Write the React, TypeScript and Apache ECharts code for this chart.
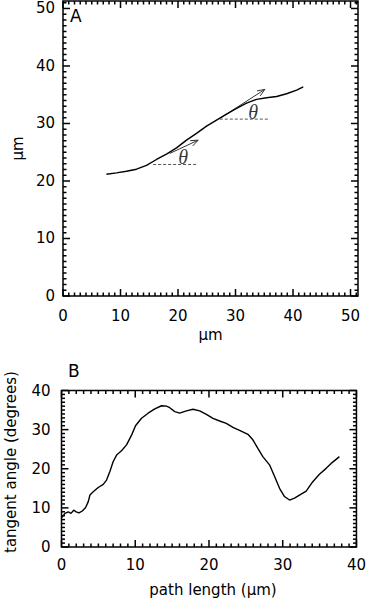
import React, { useEffect, useRef } from "react";
import * as echarts from "echarts";

// Panel A: path of the object (µm)
const pathX = [7.55, 9.29, 11.03, 12.78, 14.52, 16.26, 18.0, 19.74, 21.48, 23.22, 24.96, 26.7, 28.44, 30.18, 31.92, 33.66, 35.4, 37.14, 38.88, 40.63, 41.78];
const pathY = [21.18, 21.41, 21.7, 22.05, 22.7, 23.74, 24.67, 25.76, 27.1, 28.27, 29.54, 30.58, 31.63, 32.62, 33.54, 34.19, 34.47, 34.7, 35.17, 35.8, 36.38];

// tangent arrows [x1, y1, x2, y2]
const tangentArrows = [
  [18.57, 24.79, 23.5, 27.1],
  [27.27, 30.88, 35.1, 35.93],
];
// horizontal reference lines [xStart, xEnd, y]
const refLines = [
  [15.67, 23.5, 22.87],
  [27.27, 35.68, 30.76],
];
// theta label positions
const thetaX = [20.9, 33.07];
const thetaY = [24.09, 32.03];

// Panel B: tangent angle vs path length
const lenX = [0.03, 0.47, 0.92, 1.29, 1.65, 2.0, 2.37, 2.82, 3.27, 3.63, 3.86, 4.3, 4.98, 5.66, 6.11, 6.56, 7.0, 7.47, 8.14, 8.82, 9.5, 10.04, 10.85, 11.75, 12.65, 13.56, 14.23, 14.68, 15.36, 16.03, 16.94, 17.84, 18.74, 19.65, 20.54, 21.45, 22.35, 23.25, 24.15, 25.28, 25.95, 26.63, 27.3, 28.21, 28.9, 29.57, 30.24, 30.92, 31.6, 32.5, 33.18, 34.08, 34.98, 35.89, 36.78, 37.69];
const angleY = [7.5, 8.6, 9.0, 8.6, 9.4, 9.0, 8.7, 9.2, 10.1, 11.6, 13.3, 14.1, 15.2, 16.0, 17.1, 19.3, 21.8, 23.5, 24.6, 26.1, 28.6, 31.0, 32.9, 34.2, 35.3, 36.1, 36.0, 35.6, 34.6, 34.2, 34.8, 35.2, 34.8, 33.9, 32.9, 32.2, 31.6, 30.6, 29.8, 28.8, 27.4, 25.2, 23.1, 21.0, 18.0, 15.0, 12.9, 12.0, 12.5, 13.5, 14.3, 16.7, 18.6, 20.1, 21.7, 23.1];

const tickLabelsA = [0, 10, 20, 30, 40, 50];
const tickLabelsB = [0, 10, 20, 30, 40];
const MAX_A = 51.3;
const MAX_B = 40;
const MAJOR_STEP = 10;
const MINOR_STEP = 1;

const FONT = "DejaVu Sans";

function axis(gridIndex: number, max: number, labels: number[], name: string, nameGap: number, margin: number) {
  return {
    type: "value",
    gridIndex,
    min: 0,
    max,
    interval: MAJOR_STEP,
    splitLine: { show: false },
    axisLine: { show: false, onZero: false },
    axisTick: { show: false },
    axisLabel: {
      margin,
      color: "#000",
      fontFamily: FONT,
      fontSize: 15,
      formatter: (v: number) => (labels.indexOf(v) >= 0 ? String(v) : ""),
    },
    name,
    nameLocation: "middle",
    nameGap,
    nameTextStyle: { color: "#000", fontFamily: FONT, fontSize: 15 },
  };
}

// tick items: [value, dim(0=x,1=y), isMajor]
function tickItems(maxX: number, maxY: number) {
  const items: number[][] = [];
  for (let v = 0; v <= maxX + 1e-9; v += MINOR_STEP) items.push([v, 0, v % MAJOR_STEP === 0 ? 1 : 0]);
  for (let v = 0; v <= maxY + 1e-9; v += MINOR_STEP) items.push([v, 1, v % MAJOR_STEP === 0 ? 1 : 0]);
  return items;
}

// inward ticks on all four sides of the box, placed through the axes' scales
function tickSeries(axisIndex: number, maxX: number, maxY: number) {
  return {
    type: "custom",
    xAxisIndex: axisIndex,
    yAxisIndex: axisIndex,
    silent: true,
    data: tickItems(maxX, maxY),
    renderItem: (params: any, api: any) => {
      const v = api.value(0);
      const dim = api.value(1);
      const len = api.value(2) ? 7 : 3.5;
      const cs = params.coordSys;
      const st = { stroke: "#000", lineWidth: 1.5, fill: null };
      if (dim === 0) {
        const px = api.coord([v, 0])[0];
        const b = cs.y + cs.height;
        return {
          type: "group",
          children: [
            { type: "line", shape: { x1: px, y1: b, x2: px, y2: b - len }, style: st },
            { type: "line", shape: { x1: px, y1: cs.y, x2: px, y2: cs.y + len }, style: st },
          ],
        };
      }
      const py = api.coord([0, v])[1];
      const r = cs.x + cs.width;
      return {
        type: "group",
        children: [
          { type: "line", shape: { x1: cs.x, y1: py, x2: cs.x + len, y2: py }, style: st },
          { type: "line", shape: { x1: r, y1: py, x2: r - len, y2: py }, style: st },
        ],
      };
    },
  };
}

export default function App() {
  const ref = useRef<HTMLDivElement>(null);
  useEffect(() => {
    if (!ref.current) return;
    const chart = echarts.init(ref.current, undefined, { renderer: "svg" });
    const box = { show: true, borderColor: "#000", borderWidth: 1.5, backgroundColor: "transparent" };
    const option: any = {
      animation: false,
      backgroundColor: "#fff",
      grid: [
        { ...box, left: 63, top: 1, width: 295, height: 295 },
        { ...box, left: 61.5, top: 390.5, width: 296, height: 156.5 },
      ],
      xAxis: [axis(0, MAX_A, tickLabelsA, "µm", 31, 12), axis(1, MAX_B, tickLabelsB, "", 34, 10)],
      yAxis: [axis(0, MAX_A, tickLabelsA, "µm", 29, 8), axis(1, MAX_B, tickLabelsB, "", 40, 11)],
      graphic: [
        { type: "text", left: 70, top: 7, style: { text: "A", font: `17px "${FONT}"`, fill: "#000" } },
        { type: "text", left: 68, top: 362, style: { text: "B", font: `17px "${FONT}"`, fill: "#000" } },
        {
          type: "text",
          x: 213,
          y: 590,
          style: { text: "path length (µm)", font: `15px "${FONT}"`, fill: "#000", align: "center", verticalAlign: "middle" },
        },
        {
          type: "text",
          x: 11,
          y: 462,
          rotation: Math.PI / 2,
          style: { text: "tangent angle (degrees)", font: `15px "${FONT}"`, fill: "#000", align: "center", verticalAlign: "middle" },
        },
      ],
      series: [
        tickSeries(0, MAX_A, MAX_A),
        tickSeries(1, MAX_B, MAX_B),
        {
          type: "line",
          xAxisIndex: 0,
          yAxisIndex: 0,
          data: pathX.map((x, i) => [x, pathY[i]]),
          symbol: "none",
          lineStyle: { color: "#000", width: 1.4 },
        },
        ...refLines.map((r) => ({
          type: "line",
          xAxisIndex: 0,
          yAxisIndex: 0,
          data: [
            [r[0], r[2]],
            [r[1], r[2]],
          ],
          symbol: "none",
          lineStyle: { color: "#555", width: 1, type: [3, 2] },
        })),
        {
          type: "custom",
          xAxisIndex: 0,
          yAxisIndex: 0,
          data: tangentArrows,
          renderItem: (params: any, api: any) => {
            const p1 = api.coord([api.value(0), api.value(1)]);
            const p2 = api.coord([api.value(2), api.value(3)]);
            const ang = Math.atan2(p2[1] - p1[1], p2[0] - p1[0]);
            const L = 8;
            const spread = 0.38;
            const h1 = [p2[0] - L * Math.cos(ang - spread), p2[1] - L * Math.sin(ang - spread)];
            const h2 = [p2[0] - L * Math.cos(ang + spread), p2[1] - L * Math.sin(ang + spread)];
            const st = { stroke: "#333", lineWidth: 1, fill: null };
            return {
              type: "group",
              children: [
                { type: "line", shape: { x1: p1[0], y1: p1[1], x2: p2[0], y2: p2[1] }, style: st },
                { type: "polyline", shape: { points: [h1, p2, h2] }, style: st },
              ],
            };
          },
        },
        {
          type: "scatter",
          xAxisIndex: 0,
          yAxisIndex: 0,
          data: thetaX.map((x, i) => [x, thetaY[i]]),
          symbolSize: 0,
          label: {
            show: true,
            position: "inside",
            formatter: "θ",
            color: "#000",
            fontFamily: "Liberation Serif",
            fontStyle: "italic",
            fontSize: 20,
          },
        },
        {
          type: "line",
          xAxisIndex: 1,
          yAxisIndex: 1,
          data: lenX.map((x, i) => [x, angleY[i]]),
          symbol: "none",
          lineStyle: { color: "#000", width: 1.4 },
        },
      ],
    };
    chart.setOption(option);
    return () => chart.dispose();
  }, []);
  return (
    <div
      ref={ref}
      style={{ position: "fixed", left: 0, top: 0, width: 369, height: 600, background: "#fff" }}
    />
  );
}
